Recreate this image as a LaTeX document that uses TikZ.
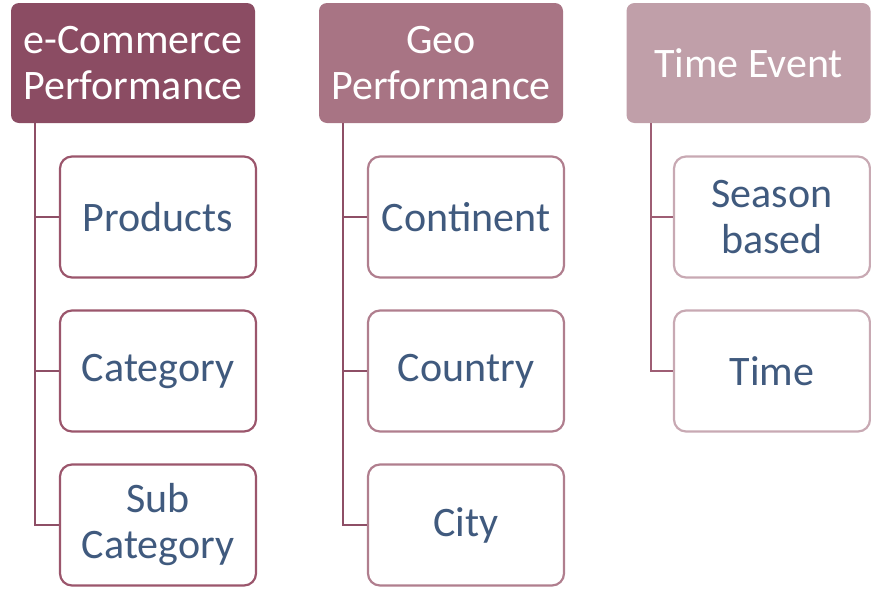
\documentclass[tikz,border=0pt]{standalone}
\usepackage{fontspec}
\setmainfont{Carlito}
\definecolor{hA}{HTML}{8B4C63}
\definecolor{hB}{HTML}{A87484}
\definecolor{hC}{HTML}{C09FA9}
\definecolor{bA}{HTML}{9B566C}
\definecolor{bB}{HTML}{B07E8E}
\definecolor{bC}{HTML}{C8A9B3}
\definecolor{lnA}{HTML}{8E4F66}
\definecolor{lnC}{HTML}{9E5E74}
\definecolor{txt}{HTML}{405A7E}
\tikzset{
  head/.style={rounded corners=8pt, minimum width=244pt, minimum height=120pt, inner sep=0pt,
     text=white, align=center, font=\fontsize{42}{46}\selectfont},
  child/.style={draw, line width=2.2pt, fill=white, rounded corners=12pt, minimum width=196pt, minimum height=121pt,
     inner sep=0pt, text=txt, align=center, font=\fontsize{42}{46}\selectfont},
  conn/.style={line width=2pt}
}
\begin{document}
\begin{tikzpicture}[x=1pt,y=-1pt]
\useasboundingbox (0,0) rectangle (871,592);
% headers
\node[head, fill=hA] (h1) at (133,63) {e-Commerce\\Performance};
\node[head, fill=hB] (h2) at (441,63) {Geo\\Performance};
\node[head, fill=hC] (h3) at (748.5,63) {Time Event};
% column 1
\node[child, draw=bA] (c11) at (158,217) {Products};
\node[child, draw=bA] (c12) at (158,371) {Category};
\node[child, draw=bA] (c13) at (158,525) {Sub\\Category};
% column 2
\node[child, draw=bB] (c21) at (466,217) {Continent};
\node[child, draw=bB] (c22) at (466,371) {Country};
\node[child, draw=bB] (c23) at (466,525) {City};
% column 3
\node[child, draw=bC] (c31) at (772,217) {Season\\based};
\node[child, draw=bC] (c32) at (772,371) {Time};
% connectors
\coordinate (v1) at (35,0);
\coordinate (v2) at (343,0);
\coordinate (v3) at (651,0);
\draw[conn, draw=lnA] (h1.south -| v1) |- (c13.west);
\draw[conn, draw=lnA] (c11.west -| v1) -- (c11.west);
\draw[conn, draw=lnA] (c12.west -| v1) -- (c12.west);
\draw[conn, draw=lnA] (h2.south -| v2) |- (c23.west);
\draw[conn, draw=lnA] (c21.west -| v2) -- (c21.west);
\draw[conn, draw=lnA] (c22.west -| v2) -- (c22.west);
\draw[conn, draw=lnC] (h3.south -| v3) |- (c32.west);
\draw[conn, draw=lnC] (c31.west -| v3) -- (c31.west);
\end{tikzpicture}
\end{document}
